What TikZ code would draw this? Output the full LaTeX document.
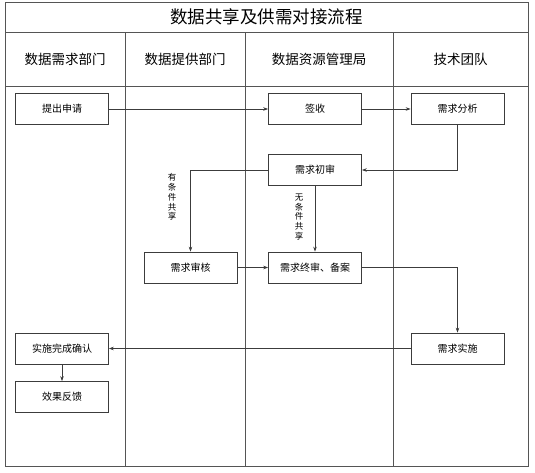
\documentclass[tikz,border=0pt]{standalone}
\usepackage{fontspec}
\setmainfont{Noto Sans CJK SC}
\usetikzlibrary{arrows.meta,positioning}
\definecolor{lanegray}{RGB}{85,85,85}
\definecolor{boxgray}{RGB}{60,60,60}

\begin{document}
\begin{tikzpicture}[x=1pt,y=-1pt,
  stepbox/.style={draw=boxgray,line width=0.7pt,minimum width=93pt,minimum height=31pt,inner sep=1pt,font=\fontsize{10}{12}\selectfont},
  flow/.style={draw=boxgray,line width=0.6pt,-{Stealth[length=5pt,width=3.5pt]}},
  lane/.style={draw=lanegray,line width=0.9pt},
  vlabel/.style={align=center,font=\fontsize{8.5}{9.8}\selectfont,inner sep=0pt}]
\useasboundingbox (0,0) rectangle (535,472);
% swimlane frame
\draw[lane] (5,2) rectangle (528,466.5);
\draw[lane] (5,32) -- (528,32);
\draw[lane] (5,86) -- (528,86);
\foreach \x in {125,245.5,393}
  \draw[lane] (\x,32) -- (\x,466.5);
\node[font=\fontsize{17.5}{20}\selectfont] (title) at (266.5,17) {数据共享及供需对接流程};
\node[font=\fontsize{13.5}{16}\selectfont] (demand) at (65,59) {数据需求部门};
\node[font=\fontsize{13.5}{16}\selectfont] (supply) at (185,59) {数据提供部门};
\node[font=\fontsize{13.5}{16}\selectfont] (bureau) at (319,59) {数据资源管理局};
\node[font=\fontsize{13.5}{16}\selectfont] (tech) at (460.5,59) {技术团队};
% steps
\node[stepbox] (apply) at (62,109) {提出申请};
\node[stepbox] (sign) at (315,109) {签收};
\node[stepbox] (analyze) at (457.5,109) {需求分析};
\node[stepbox] (first) at (315,170) {需求初审};
\node[stepbox] (review) at (190.5,267.5) {需求审核};
\node[stepbox] (final) at (315,267.5) {需求终审、备案};
\node[stepbox] (confirm) at (62,348.5) {实施完成确认};
\node[stepbox] (implement) at (457.5,348.5) {需求实施};
\node[stepbox] (feedback) at (62,397) {效果反馈};
% connectors
\draw[flow] (apply) -- (sign);
\draw[flow] (sign) -- (analyze);
\draw[flow] (analyze.south) |- (first.east);
\draw[flow] (first.west) -| (review.north);
\draw[flow] (first) -- (final);
\draw[flow] (review) -- (final);
\draw[flow] (final.east) -| (implement.north);
\draw[flow] (implement) -- (confirm);
\draw[flow] (confirm) -- (feedback);
\node[vlabel] (cond) at (172,197) {有\\条\\件\\共\\享};
\node[vlabel] (free) at (299,217) {无\\条\\件\\共\\享};
\end{tikzpicture}
\end{document}
